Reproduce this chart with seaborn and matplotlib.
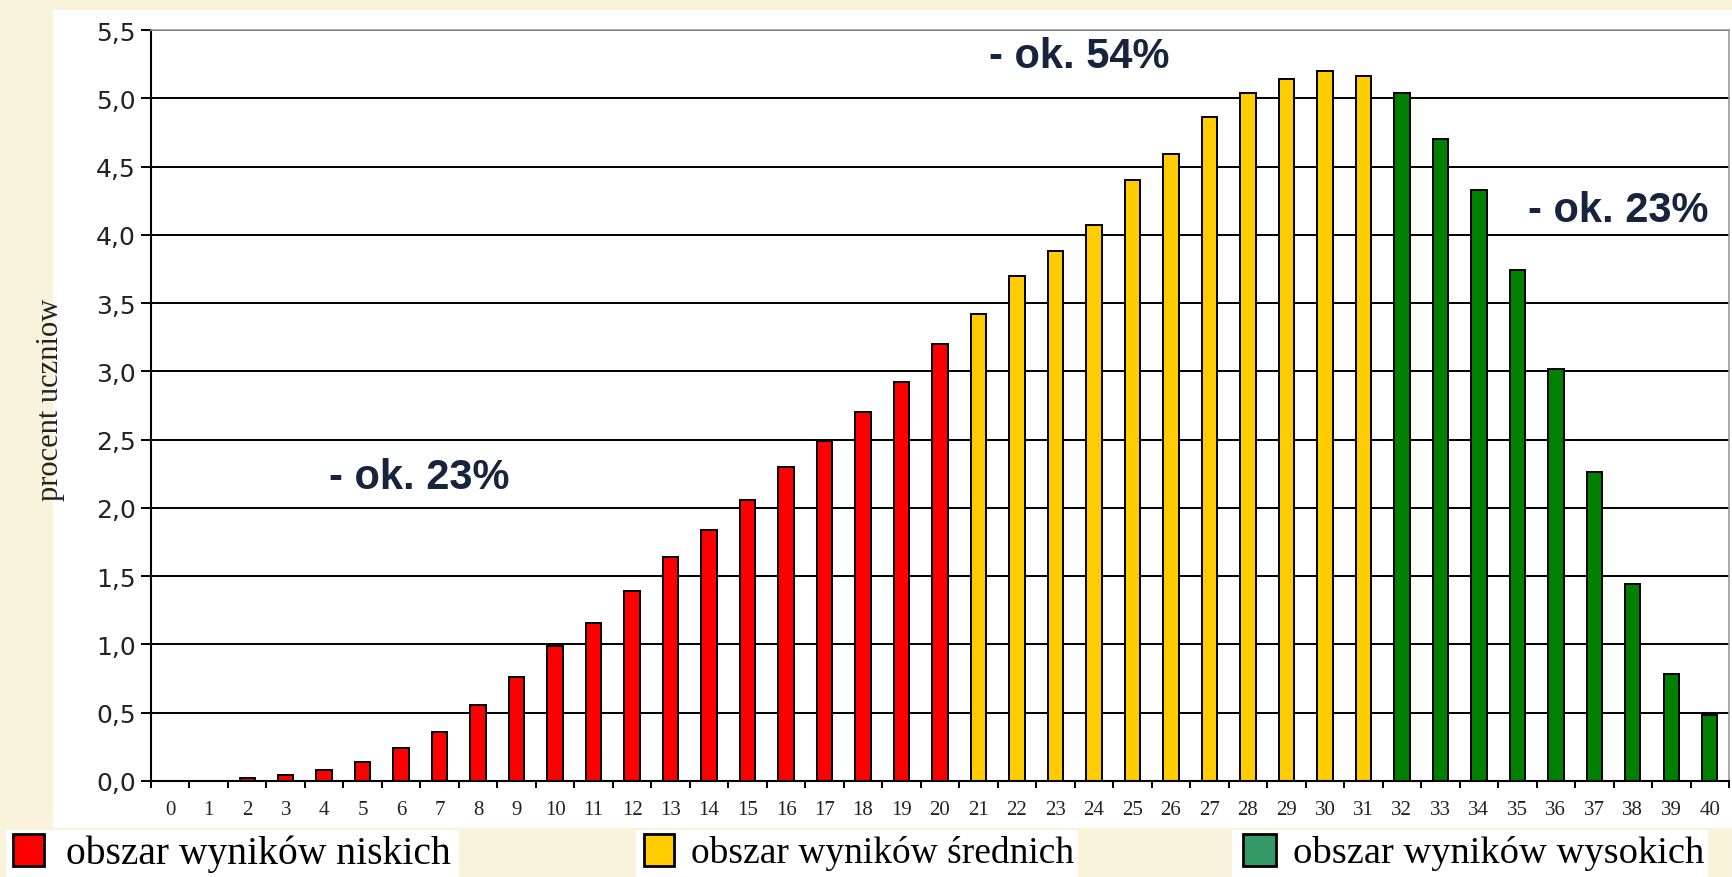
import matplotlib.pyplot as plt
from matplotlib.patches import Rectangle
import pandas as pd
import seaborn as sns

# wyniki punktowe 0-40 i procent uczniów
scores = list(range(41))
percent = [0.0, 0.0, 0.02, 0.045, 0.08, 0.14, 0.24, 0.36, 0.56, 0.76,
           0.99, 1.16, 1.39, 1.64, 1.84, 2.06, 2.30, 2.49, 2.70, 2.92,
           3.20, 3.42, 3.70, 3.88, 4.07, 4.40, 4.59, 4.86, 5.04, 5.14,
           5.20, 5.16, 5.04, 4.70, 4.33, 3.74, 3.02, 2.26, 1.44, 0.78, 0.48]
area = ["niskie"] * 21 + ["średnie"] * 11 + ["wysokie"] * 9

area_colors = {"niskie": "#ff0000", "średnie": "#ffcc00", "wysokie": "#008000"}
legend_labels = ["obszar wyników niskich", "obszar wyników średnich",
                 "obszar wyników wysokich"]
legend_colors = ["#ff0000", "#ffcc00", "#339966"]
y_ticks = [0.0, 0.5, 1.0, 1.5, 2.0, 2.5, 3.0, 3.5, 4.0, 4.5, 5.0, 5.5]
y_tick_labels = ["0,0", "0,5", "1,0", "1,5", "2,0", "2,5",
                 "3,0", "3,5", "4,0", "4,5", "5,0", "5,5"]
annotations = [(21.27, 5.31, "- ok. 54%"), (4.12, 2.23, "- ok. 23%"),
               (35.28, 4.18, "- ok. 23%")]

W, H = 1733, 878
CREAM = "#faf3dc"
NAVY = "#17243d"

df = pd.DataFrame({"score": scores, "percent": percent, "area": area})

sns.set_theme(style="white")
plt.rcParams["font.family"] = ["Liberation Serif", "DejaVu Serif"]

fig = plt.figure(figsize=(W / 100, H / 100), dpi=100, facecolor=CREAM)
# biały panel pod wykresem
fig.add_artist(Rectangle((53 / W, 1 - 829 / H), 1, (829 - 11) / H,
                         transform=fig.transFigure, facecolor="white",
                         edgecolor="none", zorder=0))

ax = fig.add_axes([151 / W, 1 - 782 / H, (1729 - 151) / W, (782 - 31) / H])
ax.set_facecolor("white")

sns.barplot(data=df, x="score", y="percent", hue="area", palette=area_colors,
            dodge=False, width=0.4, saturation=1, edgecolor="black",
            linewidth=1.4, legend=False, ax=ax)

ax.set_ylim(0, 5.5)
ax.set_xlim(-0.5, 40.5)
ax.set_axisbelow(True)
ax.yaxis.grid(True, color="black", linewidth=1.4)
ax.xaxis.grid(False)

ax.set_yticks(y_ticks)
ax.set_yticklabels(y_tick_labels, family="DejaVu Sans", fontsize=18,
                   color="#222222")
ax.tick_params(axis="y", left=True, length=7, width=1.4, color="black", pad=4)

ax.set_xticks(range(len(scores)))
ax.set_xticklabels([str(s) for s in scores], fontsize=15, color="#222222")
ax.set_xticks([s - 0.5 for s in scores] + [scores[-1] + 0.5], minor=True)
ax.tick_params(axis="x", which="major", length=0, pad=14)
ax.tick_params(axis="x", which="minor", bottom=True, length=5, width=1.4,
               color="black")

for side in ["left", "bottom"]:
    ax.spines[side].set_color("black")
    ax.spines[side].set_linewidth(1.5)
for side in ["top", "right"]:
    ax.spines[side].set_color("#999999")
    ax.spines[side].set_linewidth(1.2)

ax.set_xlabel("")
ax.set_ylabel("procent uczniow", fontsize=22, color="#222222")
ax.yaxis.set_label_coords(-0.0545, 0.509)

for x, y, txt in annotations:
    ax.text(x, y, txt, ha="left", va="center", fontsize=30, fontweight="bold",
            color=NAVY, family="Liberation Sans")

# legenda: trzy osobne pola na dole
legend_boxes = [(6, 459, 13, 44, 66, 28.5), (636, 1078, 644, 674, 691, 27),
                (1232, 1708, 1243, 1276, 1293, 27.7)]
for (bx0, bx1, sx0, sx1, tx, fs), label, color in zip(legend_boxes,
                                                       legend_labels,
                                                       legend_colors):
    fig.add_artist(Rectangle((bx0 / W, 0), (bx1 - bx0) / W, (878 - 831) / H,
                             transform=fig.transFigure, facecolor="white",
                             edgecolor="none", zorder=1))
    fig.add_artist(Rectangle((sx0 / W, 1 - 867 / H), (sx1 - sx0) / W,
                             (867 - 835) / H, transform=fig.transFigure,
                             facecolor=color, edgecolor="black",
                             linewidth=2, zorder=2))
    fig.text(tx / W, 1 - 854 / H, label, ha="left", va="center",
             fontsize=fs, color="black", zorder=3)

fig.savefig("out.png", dpi=100, facecolor=CREAM)
plt.close(fig)
